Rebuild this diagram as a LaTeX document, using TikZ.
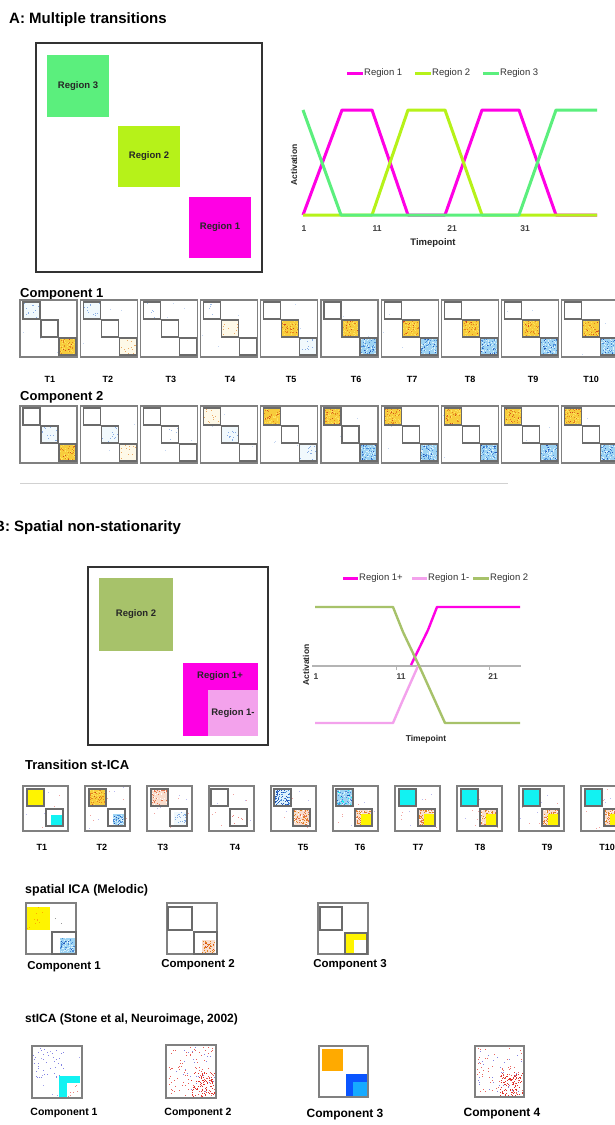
\documentclass[tikz,border=0pt]{standalone}
\usepackage{fontspec}
\setmainfont{Liberation Sans}
\usetikzlibrary{positioning}

\definecolor{regone}{HTML}{FF00E4}
\definecolor{regtwo}{HTML}{B6F219}
\definecolor{regthree}{HTML}{5BEF7D}
\definecolor{oliveg}{HTML}{A7C26A}
\definecolor{pinkm}{HTML}{F3A2EC}
\definecolor{hotbase}{HTML}{F7CC3C}
\definecolor{hotdot}{HTML}{E3821E}
\definecolor{hotlite}{HTML}{FFE35E}
\definecolor{hotred}{HTML}{D2481E}
\definecolor{coldbase}{HTML}{9DD3F3}
\definecolor{colddot}{HTML}{4A8CD8}
\definecolor{coldlite}{HTML}{DDF2FC}
\definecolor{colddeep}{HTML}{2457B8}
\definecolor{peach}{HTML}{F9DDCD}
\definecolor{salmon}{HTML}{E4734C}
\definecolor{faintblue}{HTML}{86ABE4}
\definecolor{cyanfill}{HTML}{12F2F2}
\definecolor{yellowfill}{HTML}{FFF400}
\definecolor{orangefill}{HTML}{FFAA00}
\definecolor{deepblue}{HTML}{0A55FF}
\definecolor{skyblue}{HTML}{16AAFF}
\definecolor{redspeck}{HTML}{E0322A}
\definecolor{bluespeck}{HTML}{6464DC}
\definecolor{axisgray}{HTML}{B4B4B4}

\tikzset{
  heading/.style={anchor=base west, inner sep=0pt, font=\bfseries\fontsize{15}{18}\selectfont},
  subhead/.style={anchor=base west, inner sep=0pt, font=\bfseries\fontsize{13}{16}\selectfont},
  regbox/.style={inner sep=0pt, text=black!85, font=\bfseries\fontsize{9.5}{11}\selectfont},
  legtext/.style={inner sep=0.5pt, text=black!80, font=\fontsize{9.5}{11}\selectfont},
  legline/.style={line width=3pt},
  axlabel/.style={inner sep=0pt, text=black!85, font=\bfseries\fontsize{8.5}{10}\selectfont},
  ticklabel/.style={inner sep=0pt, text=black!75, font=\bfseries\fontsize{8.5}{10}\selectfont},
  tlabel/.style={inner sep=0pt, font=\bfseries\fontsize{9}{11}\selectfont},
  complabel/.style={inner sep=0pt, font=\bfseries\fontsize{11.5}{14}\selectfont},
  outerframe/.style={draw=black!80, line width=2pt},
  mapframe/.style={draw=black!50, line width=1.1pt},
  sqframe/.style={draw=black!58, line width=1.1pt},
  curve/.style={line width=3pt, line join=round},
  thincurve/.style={line width=2.4pt, line join=round},
}

% random specks in a box: x, y, width, height, colour, count
\newcommand{\speck}[6]{%
  \foreach \q in {1,...,#6}{%
    \pgfmathsetmacro{\sx}{#1+rnd*(#3-1)}%
    \pgfmathsetmacro{\sy}{#2+rnd*(#4-1)}%
    \fill[#5] (\sx,\sy) rectangle ++(1,1);}}

% patches: x, y, width, height
\newcommand{\hotpatch}[4]{%
  \fill[hotbase] (#1,#2) rectangle ++(#3,#4);
  \speck{#1}{#2}{#3}{#4}{hotdot}{28}%
  \speck{#1}{#2}{#3}{#4}{hotlite}{35}%
  \speck{#1}{#2}{#3}{#4}{hotred}{6}}
\newcommand{\coldpatch}[4]{%
  \fill[coldbase] (#1,#2) rectangle ++(#3,#4);
  \speck{#1}{#2}{#3}{#4}{colddot}{35}%
  \speck{#1}{#2}{#3}{#4}{coldlite}{35}%
  \speck{#1}{#2}{#3}{#4}{colddeep}{8}}
\newcommand{\warmpatch}[4]{%
  \fill[peach] (#1,#2) rectangle ++(#3,#4);
  \speck{#1}{#2}{#3}{#4}{salmon}{35}%
  \speck{#1}{#2}{#3}{#4}{white}{20}}
\newcommand{\fainthot}[4]{%
  \fill[hotbase!12] (#1,#2) rectangle ++(#3,#4);
  \speck{#1}{#2}{#3}{#4}{hotdot!70}{12}}
\newcommand{\faintcold}[4]{%
  \fill[coldbase!14] (#1,#2) rectangle ++(#3,#4);
  \speck{#1}{#2}{#3}{#4}{faintblue}{12}}
\newcommand{\paleblue}[4]{\speck{#1}{#2}{#3}{#4}{faintblue!80}{5}}
\newcommand{\nopatch}[4]{}

% one map of the first simulation, drawn in local coordinates
\newcommand{\mapA}[3]{%
  \draw[mapframe] (0,0) rectangle (57,57);
  \speck{1}{1}{55}{55}{faintblue!50}{3}%
  #1{3}{2}{17}{17}\draw[sqframe] (3,2) rectangle ++(17,17);
  #2{21}{20}{17}{17}\draw[sqframe] (21,20) rectangle ++(17,17);
  #3{39}{38}{17}{17}\draw[sqframe] (39,38) rectangle ++(17,17);}

\begin{document}
\begin{tikzpicture}[x=1pt, y=-1pt]
\pgfmathsetseed{11}
\fill[white] (0,0) rectangle (614,1125);
\useasboundingbox (0,0) rectangle (614,1125);

%% ---------- A ----------
\node[heading] (titleA) at (9,23) {A: Multiple transitions};

\draw[outerframe] (36,43) rectangle (262,272);
\node[regbox, fill=regthree, minimum width=62, minimum height=62] (reg3) at (78,86) {Region 3};
\node[regbox, fill=regtwo, minimum width=62, minimum height=61] (reg2) at (149,156.5) {Region 2};
\node[regbox, fill=regone, minimum width=62, minimum height=61] (reg1) at (220,227.5) {Region 1};

% legend
\coordinate (lga1s) at (347,73); \coordinate (lga1e) at (363,73);
\coordinate (lga2s) at (415,73); \coordinate (lga2e) at (431,73);
\coordinate (lga3s) at (483,73); \coordinate (lga3e) at (499,73);
\draw[legline, regone] (lga1s) -- (lga1e);
\draw[legline, regtwo] (lga2s) -- (lga2e);
\draw[legline, regthree] (lga3s) -- (lga3e);
\node[legtext, right=0.5pt of lga1e] (lga1) {Region 1};
\node[legtext, right=0.5pt of lga2e] (lga2) {Region 2};
\node[legtext, right=0.5pt of lga3e] (lga3) {Region 3};

% time courses
\draw[axisgray, line width=1.2pt] (303,215) -- (597,215);
\draw[curve, regone] (303,215) -- (342,110) -- (372,110) -- (408,215) -- (445,215) -- (482,110) -- (519,110) -- (556,215) -- (597,215);
\draw[curve, regtwo] (303,215) -- (372,215) -- (408,110) -- (445,110) -- (482,215) -- (597,215);
\draw[curve, regthree] (303,110) -- (341,215) -- (519,215) -- (556,110) -- (597,110);
\node[ticklabel] (tka1) at (304,229) {1};
\node[ticklabel] (tka2) at (377,229) {11};
\node[ticklabel] (tka3) at (452,229) {21};
\node[ticklabel] (tka4) at (525,229) {31};
\node[axlabel, font=\bfseries\fontsize{9.5}{11}\selectfont] (xlabA) at (433,243) {Timepoint};
\node[axlabel, rotate=90] (ylabA) at (294,165) {Activation};

% component maps
\node[subhead] (compA1) at (20,297) {Component 1};
\foreach \ta/\tb/\tc [count=\n from 0] in {\faintcold/\nopatch/\hotpatch, \faintcold/\nopatch/\fainthot,
    \paleblue/\nopatch/\nopatch, \paleblue/\fainthot/\nopatch, \nopatch/\hotpatch/\faintcold,
    \nopatch/\hotpatch/\coldpatch, \nopatch/\hotpatch/\coldpatch, \nopatch/\hotpatch/\coldpatch,
    \nopatch/\hotpatch/\coldpatch, \nopatch/\hotpatch/\coldpatch}{
  \begin{scope}[shift={(20+60.2*\n,300)}]
    \mapA{\ta}{\tb}{\tc}
  \end{scope}
}
\foreach \lx [count=\n] in {50,108,171,230,291,356,412,470,533,591}
  \node[tlabel] (ta\n) at (\lx,379) {T\n};

\node[subhead] (compA2) at (20,400) {Component 2};
\foreach \ta/\tb/\tc [count=\n from 0] in {\nopatch/\faintcold/\hotpatch, \nopatch/\faintcold/\fainthot,
    \nopatch/\paleblue/\nopatch, \fainthot/\faintcold/\nopatch, \hotpatch/\nopatch/\faintcold,
    \hotpatch/\nopatch/\coldpatch, \hotpatch/\nopatch/\coldpatch, \hotpatch/\nopatch/\coldpatch,
    \hotpatch/\nopatch/\coldpatch, \hotpatch/\nopatch/\coldpatch}{
  \begin{scope}[shift={(20+60.2*\n,406)}]
    \mapA{\ta}{\tb}{\tc}
  \end{scope}
}

\draw[black!18, line width=1pt] (20,483) -- (508,483);

%% ---------- B ----------
\node[heading] (titleB) at (-6,531) {B: Spatial non-stationarity};

\draw[outerframe] (88,567) rectangle (268,745);
\node[regbox, fill=oliveg, minimum width=74, minimum height=73] (regb2) at (136,614.5) {Region 2};
\node[regbox, fill=regone, minimum width=75, minimum height=73] (regb1p) at (220.5,699.5) {};
\node[regbox] (lab1p) at (220,676) {Region 1+};
\node[regbox, fill=pinkm, minimum width=50, minimum height=46] (regb1m) at (233,713) {Region 1-};

% legend
\coordinate (lgb1s) at (343,578); \coordinate (lgb1e) at (358,578);
\coordinate (lgb2s) at (412,578); \coordinate (lgb2e) at (427,578);
\coordinate (lgb3s) at (473,578); \coordinate (lgb3e) at (489,578);
\draw[legline, regone] (lgb1s) -- (lgb1e);
\draw[legline, pinkm] (lgb2s) -- (lgb2e);
\draw[legline, oliveg] (lgb3s) -- (lgb3e);
\node[legtext, right=0.5pt of lgb1e] (lgb1) {Region 1+};
\node[legtext, right=0.5pt of lgb2e] (lgb2) {Region 1-};
\node[legtext, right=0.5pt of lgb3e] (lgb3) {Region 2};

% time courses
\draw[axisgray, line width=1.2pt] (312,666) -- (521,666);
\draw[axisgray, line width=1pt] (396,666) -- (396,670) (489,666) -- (489,670);
\draw[thincurve, pinkm] (315,723) -- (393,723) -- (402,702) -- (418,666);
\draw[thincurve, regone] (411,665) -- (428,630) -- (437,607) -- (520,607);
\draw[thincurve, oliveg] (315,607) -- (393,607) -- (403,632) -- (422,672) -- (445,723) -- (520,723);
\node[ticklabel] (tkb1) at (316,677) {1};
\node[ticklabel] (tkb2) at (401,677) {11};
\node[ticklabel] (tkb3) at (493,677) {21};
\node[axlabel] (xlabB) at (426,739) {Timepoint};
\node[axlabel, rotate=90] (ylabB) at (306,665) {Activation};

%% transition st-ICA
\node[subhead] (stica) at (25,769) {Transition st-ICA};
\foreach \n in {0,...,9}{
  \begin{scope}[shift={(23+62*\n,786)}]
    \draw[mapframe] (0,0) rectangle (45,45);
    \speck{1}{1}{43}{43}{redspeck!45}{6}
    \speck{1}{1}{43}{43}{bluespeck!45}{5}
  \end{scope}
}
% T1
\begin{scope}[shift={(23,786)}]
  \fill[yellowfill] (4,3) rectangle ++(17,17); \draw[sqframe] (4,3) rectangle ++(17,17);
  \fill[cyanfill] (28,29) rectangle (40,40); \draw[sqframe] (23,23) rectangle ++(17,17);
\end{scope}
% T2
\begin{scope}[shift={(85,786)}]
  \hotpatch{4}{3}{17}{17} \speck{4}{3}{17}{17}{hotdot}{15} \draw[sqframe] (4,3) rectangle ++(17,17);
  \coldpatch{28}{28}{12}{12} \draw[sqframe] (23,23) rectangle ++(17,17);
\end{scope}
% T3
\begin{scope}[shift={(147,786)}]
  \warmpatch{4}{3}{17}{17} \draw[sqframe] (4,3) rectangle ++(17,17);
  \faintcold{27}{26}{13}{14} \speck{28}{27}{12}{13}{colddot!70}{10} \draw[sqframe] (23,23) rectangle ++(17,17);
\end{scope}
% T4
\begin{scope}[shift={(207,786)}]
  \draw[sqframe] (4,3) rectangle ++(17,17);
  \speck{24}{24}{16}{16}{redspeck!60}{6} \draw[sqframe] (23,23) rectangle ++(17,17);
\end{scope}
% T5
\begin{scope}[shift={(270,786)}]
  \fill[coldlite] (4,3) rectangle ++(17,17);
  \speck{4}{3}{17}{17}{colddeep}{55} \speck{4}{3}{17}{17}{colddot}{30}
  \draw[sqframe] (4,3) rectangle ++(17,17);
  \warmpatch{23}{23}{17}{17} \speck{23}{23}{17}{17}{hotdot}{40} \draw[sqframe] (23,23) rectangle ++(17,17);
\end{scope}
% T6
\begin{scope}[shift={(332,786)}]
  \coldpatch{4}{3}{17}{17} \speck{4}{3}{17}{17}{cyanfill}{20} \draw[sqframe] (4,3) rectangle ++(17,17);
  \warmpatch{23}{23}{17}{17} \speck{23}{23}{17}{17}{hotdot}{40}
  \fill[yellowfill] (29,28) rectangle (40,40); \draw[sqframe] (23,23) rectangle ++(17,17);
\end{scope}
% T7 to T10
\foreach \n in {6,...,9}{
  \begin{scope}[shift={(23+62*\n,786)}]
    \fill[cyanfill] (4,3) rectangle ++(17,17); \draw[sqframe] (4,3) rectangle ++(17,17);
    \warmpatch{23}{23}{17}{17} \speck{23}{23}{17}{17}{hotdot}{40}
    \fill[yellowfill] (29,28) rectangle (40,40); \draw[sqframe] (23,23) rectangle ++(17,17);
  \end{scope}
}
\foreach \lx [count=\n] in {42,102,163,235,303,360,418,480,547,607}
  \node[tlabel] (tb\n) at (\lx,847) {T\n};

%% spatial ICA
\node[subhead, font=\bfseries\fontsize{12.5}{15}\selectfont] (melodic) at (25,893) {spatial ICA (Melodic)};
\begin{scope}[shift={(26,903)}]
  \draw[mapframe] (0,0) rectangle (50,51);
  \fill[yellowfill] (1,4) rectangle (24,27); \speck{1}{4}{23}{23}{orangefill}{10}
  \speck{26}{10}{20}{14}{black!40}{2}
  \coldpatch{34}{35}{15}{15} \draw[sqframe] (26,29) rectangle (50,51);
\end{scope}
\begin{scope}[shift={(167,903)}]
  \draw[mapframe] (0,0) rectangle (50,51);
  \draw[sqframe] (1,4) rectangle (25,27);
  \fill[peach] (35,37) rectangle (48,51); \speck{35}{37}{13}{14}{hotdot}{35} \speck{35}{37}{13}{14}{hotred}{12}
  \draw[sqframe] (27,29) rectangle (50,51);
\end{scope}
\begin{scope}[shift={(318,903)}]
  \draw[mapframe] (0,0) rectangle (50,51);
  \draw[sqframe] (2,4) rectangle (24,27);
  \fill[yellowfill] (27,30) rectangle (49,51); \fill[white] (36,37) rectangle (48,51);
  \draw[sqframe] (27,30) rectangle (49,51);
\end{scope}
\node[complabel] (mc1) at (64,967) {Component 1};
\node[complabel] (mc2) at (198,965) {Component 2};
\node[complabel] (mc3) at (350,965) {Component 3};

%% stICA
\node[subhead, font=\bfseries\fontsize{12}{15}\selectfont] (stone) at (25,1022) {stICA (Stone et al, Neuroimage, 2002)};
\begin{scope}[shift={(32,1046)}]
  \speck{1}{1}{34}{34}{bluespeck!80}{45} \speck{1}{1}{48}{50}{bluespeck!60}{8}
  \fill[cyanfill] (27,30) rectangle (48,52); \fill[white] (35,37) rectangle (48,52);
  \speck{35}{37}{13}{15}{redspeck!60}{7}
  \draw[mapframe] (0,0) rectangle (50,52);
\end{scope}
\begin{scope}[shift={(166,1045)}]
  \speck{1}{1}{48}{51}{redspeck!80}{90} \speck{25}{27}{24}{25}{redspeck}{95}
  \speck{1}{1}{48}{51}{bluespeck!80}{25}
  \draw[mapframe] (0,0) rectangle (50,53);
\end{scope}
\begin{scope}[shift={(319,1046)}]
  \fill[orangefill] (3,3) rectangle (24,25);
  \fill[deepblue] (27,28) rectangle (48,51);
  \fill[skyblue] (34,36) rectangle (48,51);
  \draw[mapframe] (0,0) rectangle (49,51);
\end{scope}
\begin{scope}[shift={(475,1046)}]
  \speck{1}{1}{47}{49}{redspeck!75}{60} \speck{25}{26}{23}{24}{redspeck}{110}
  \speck{1}{1}{47}{49}{bluespeck!80}{30}
  \draw[mapframe] (0,0) rectangle (49,51);
\end{scope}
\node[complabel, font=\bfseries\fontsize{10.5}{13}\selectfont] (sc1) at (64,1113) {Component 1};
\node[complabel, font=\bfseries\fontsize{10.5}{13}\selectfont] (sc2) at (198,1113) {Component 2};
\node[complabel, font=\bfseries\fontsize{12}{14}\selectfont] (sc3) at (345,1115) {Component 3};
\node[complabel, font=\bfseries\fontsize{12}{14}\selectfont] (sc4) at (502,1114) {Component 4};
\end{tikzpicture}
\end{document}
